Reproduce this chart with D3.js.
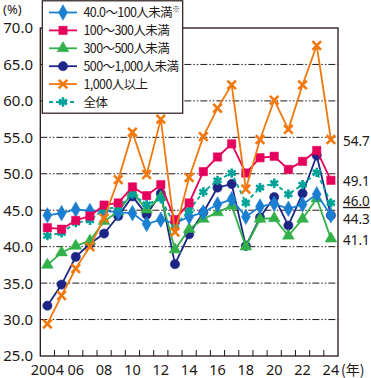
<!DOCTYPE html>
<html>
<head>
<meta charset="utf-8">
<script src="https://cdn.jsdelivr.net/npm/d3@7"></script>
<style>
  body { margin: 0; background: #fff; }
  text { font-family: "Noto Sans CJK JP", "Noto Sans", sans-serif; fill: #231815; }
  .num { font-family: "Noto Sans", sans-serif; }
</style>
</head>
<body>
<div class="chart"></div>
<script>
// data -----------------------------------------------
const years = d3.range(2004, 2025);
const s40to100 = [44.3, 44.6, 45.1, 44.9, 44.9, 44.7, 44.6, 43.1, 43.7, 43.2, 44.1, 44.7, 45.8, 46.5, 44.1, 45.5, 45.9, 45.2, 45.8, 47.2, 44.3];
const s100to300 = [42.6, 42.4, 43.6, 44.2, 45.7, 46.0, 48.2, 47.0, 48.5, 43.7, 46.0, 50.3, 52.3, 54.1, 50.1, 52.2, 52.4, 50.6, 51.7, 53.2, 49.1];
const s300to500 = [37.5, 39.2, 40.1, 40.8, 43.5, 44.8, 47.4, 45.1, 46.8, 39.6, 42.4, 43.8, 44.7, 45.6, 40.0, 43.8, 43.9, 41.5, 43.8, 46.6, 41.1];
const s500to1000 = [31.9, 34.8, 38.6, 40.4, 41.8, 44.2, 46.9, 44.4, 47.3, 37.6, 41.7, 44.7, 48.1, 48.6, 40.1, 44.0, 46.8, 42.9, 47.3, 52.5, 44.3];
const s1000 = [29.4, 33.3, 37.0, 40.0, 43.9, 49.2, 55.7, 49.9, 57.5, 42.0, 49.5, 55.1, 59.0, 62.2, 47.9, 54.7, 60.1, 56.1, 62.2, 67.6, 54.7];
const total = [41.5, 41.9, 43.3, 43.6, 45.2, 45.4, 47.2, 45.8, 46.6, 42.9, 45.0, 47.5, 49.1, 50.1, 46.0, 48.1, 48.7, 47.2, 48.5, 50.2, 46.0];

const names = ["40.0～100人未満", "100～300人未満", "300～500人未満", "500～1,000人未満", "1,000人以上", "全体"];
const yTicks = [25, 30, 35, 40, 45, 50, 55, 60, 65, 70];
const xLabels = ["2004", "06", "08", "10", "12", "14", "16", "18", "20", "22", "24"];
const endLabels = ["54.7", "49.1", "46.0", "44.3", "41.1"];
const endValues = [54.7, 49.1, 46.0, 44.3, 41.1];

const series = [
  {name: names[0], note: "※", values: s40to100, color: "#1b7fd1", symbol: d3.symbolDiamond, size: 70, fill: true},
  {name: names[1], values: s100to300, color: "#e4005b", symbol: d3.symbolSquare, size: 70, fill: true},
  {name: names[2], values: s300to500, color: "#33b04a", symbol: d3.symbolTriangle, size: 60, fill: true},
  {name: names[3], values: s500to1000, color: "#1d2687", symbol: d3.symbolCircle, size: 68, fill: true},
  {name: names[4], values: s1000, color: "#f0780f", symbol: d3.symbolX, size: 50, fill: false},
  {name: names[5], values: total, color: "#00a29a", symbol: d3.symbolAsterisk, size: 60, fill: false, dash: "4,3"}
];

// CHART INIT -----------------------------------------
const W = 371, H = 378;
const plotL = 40.3, plotR = 338, plotT = 28, plotB = 356;

const svg = d3.select('.chart')
    .append('svg')
    .attr('width', W)
    .attr('height', H);

const xScale = d3.scaleBand()
    .domain(years)
    .range([plotL, plotR])
    .padding(0);
const xc = d => xScale(d) + xScale.bandwidth() / 2;

const yScale = d3.scaleLinear()
    .domain([25, 70])
    .range([plotB, plotT]);

// grid lines (dash-dot-dot)
svg.append('g')
    .selectAll('line')
    .data(yTicks.filter(v => v > 25 && v < 70))
    .join('line')
    .attr('x1', plotL).attr('x2', plotR)
    .attr('y1', d => yScale(d)).attr('y2', d => yScale(d))
    .attr('stroke', '#231815')
    .attr('stroke-width', 1)
    .attr('stroke-dasharray', '7,2,1.5,2,1.5,2');

// frame
svg.append('rect')
    .attr('x', plotL).attr('y', plotT)
    .attr('width', plotR - plotL).attr('height', plotB - plotT)
    .attr('fill', 'none')
    .attr('stroke', '#231815')
    .attr('stroke-width', 1.3);

// x ticks at year boundaries, pointing up
svg.append('g')
    .selectAll('line')
    .data(years.slice(1))
    .join('line')
    .attr('x1', d => xScale(d)).attr('x2', d => xScale(d))
    .attr('y1', plotB).attr('y2', plotB - 6)
    .attr('stroke', '#231815')
    .attr('stroke-width', 1);

// y labels
svg.append('g')
    .selectAll('text')
    .data(yTicks)
    .join('text')
    .attr('class', 'num')
    .attr('x', 33)
    .attr('y', d => yScale(d))
    .attr('dy', '0.36em')
    .attr('text-anchor', 'end')
    .attr('font-size', '15px')
    .text(d => d.toFixed(1));

svg.append('text')
    .attr('class', 'num')
    .attr('x', 3).attr('y', 14)
    .attr('font-size', '13px')
    .text('(%)');

// x labels
const labelYears = years.filter(y => y % 2 === 0);
svg.append('g')
    .selectAll('text')
    .data(labelYears)
    .join('text')
    .attr('class', 'num')
    .attr('x', d => xc(d))
    .attr('y', 375)
    .attr('text-anchor', 'middle')
    .attr('font-size', '14.5px')
    .text((d, i) => xLabels[i]);

svg.append('text')
    .attr('x', 341).attr('y', 375)
    .attr('font-size', '14px')
    .text('(年)');

// lines and markers
const line = d3.line()
    .x((d, i) => xc(years[i]))
    .y(d => yScale(d));

const order = [3, 2, 0, 5, 1, 4];
order.forEach(k => {
  const s = series[k];
  const g = svg.append('g');
  g.append('path')
      .datum(s.values)
      .attr('d', line)
      .attr('fill', 'none')
      .attr('stroke', s.color)
      .attr('stroke-width', 1.8)
      .attr('stroke-dasharray', s.dash || null);
  g.selectAll('path.pt')
      .data(s.values)
      .join('path')
      .attr('class', 'pt')
      .attr('transform', (d, i) => `translate(${xc(years[i])},${yScale(d)})`)
      .attr('d', d3.symbol().type(s.symbol).size(s.size))
      .attr('fill', s.fill ? s.color : 'none')
      .attr('stroke', s.color)
      .attr('stroke-width', s.fill ? 0.5 : 2.6);
});

// end value labels
svg.append('g')
    .selectAll('text')
    .data(endValues)
    .join('text')
    .attr('class', 'num')
    .attr('x', 343)
    .attr('y', (d, i) => [141.5, 181, 201, 219.5, 240][i])
    .attr('dy', '0.36em')
    .attr('font-size', '13.5px')
    .attr('text-decoration', (d, i) => i === 2 ? 'underline' : null)
    .text((d, i) => endLabels[i]);

// legend
const legend = svg.append('g');
legend.append('rect')
    .attr('x', 42.3).attr('y', 0.8)
    .attr('width', 140.4).attr('height', 112.4)
    .attr('fill', '#fff')
    .attr('stroke', '#231815')
    .attr('stroke-width', 1.2);

const rows = legend.selectAll('g.row')
    .data(series)
    .join('g')
    .attr('class', 'row')
    .attr('transform', (d, i) => `translate(0,${12.5 + i * 17.9})`);

rows.append('line')
    .attr('x1', 49).attr('x2', 77)
    .attr('stroke', d => d.color)
    .attr('stroke-width', 1.8)
    .attr('stroke-dasharray', d => d.dash || null);

rows.append('path')
    .attr('transform', 'translate(63,0)')
    .attr('d', d => d3.symbol().type(d.symbol).size(d.size)())
    .attr('fill', d => d.fill ? d.color : 'none')
    .attr('stroke', d => d.color)
    .attr('stroke-width', d => d.fill ? 0.5 : 2.6);

const labels = rows.append('text')
    .attr('x', 83.5)
    .attr('dy', '0.36em')
    .attr('font-size', '12.5px')
    .attr('letter-spacing', '-0.6px');
labels.append('tspan').text(d => d.name);
labels.filter(d => d.note)
    .append('tspan')
    .attr('font-size', '8px')
    .attr('dy', '-0.6em')
    .text(d => d.note);
</script>
</body>
</html>
